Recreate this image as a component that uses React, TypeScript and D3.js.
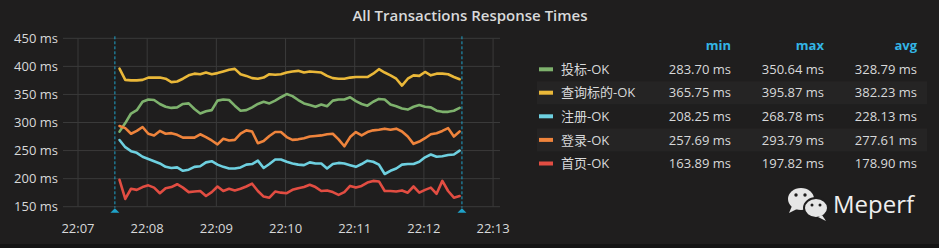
import React from "react";
import * as d3 from "d3";

const W = 939;
const H = 248;

const title = "All Transactions Response Times";
const seriesNames = ["投标-OK", "查询标的-OK", "注册-OK", "登录-OK", "首页-OK"];
const seriesColors = ["#7eb26d", "#eab839", "#6ed0e0", "#ef843c", "#e24d42"];
const legendHeaders = ["min", "max", "avg"];
const legendMin = ["283.70 ms", "365.75 ms", "208.25 ms", "257.69 ms", "163.89 ms"];
const legendMax = ["350.64 ms", "395.87 ms", "268.78 ms", "293.79 ms", "197.82 ms"];
const legendAvg = ["328.79 ms", "382.23 ms", "228.13 ms", "277.61 ms", "178.90 ms"];
const yTicks = [150, 200, 250, 300, 350, 400, 450];
const xTickMinutes = [7, 8, 9, 10, 11, 12, 13];

const toubiao = [283.7, 299, 316, 322, 337, 341, 340, 333, 328, 326, 327, 333, 334, 324, 316, 320, 322, 339, 341, 340, 330, 321, 322, 327, 333, 337, 334, 339, 345, 350.64, 347, 340, 334, 331, 328, 332, 329, 339, 341, 341, 345, 338, 333, 330, 337, 342, 341, 332, 329, 325, 323, 328, 331, 328, 327, 321, 319, 319, 321, 326];
const chaxun = [395.87, 376, 375, 375, 376, 380, 380, 380, 378, 372, 373, 378, 384, 387, 386, 389, 386, 388, 391, 394, 395.5, 386, 383, 379, 378, 380, 386, 385, 386, 389, 391, 392, 389, 391, 390, 389, 383, 379, 378, 378, 380, 381, 381, 381, 387, 395, 389, 384, 378, 365.75, 378, 384, 383, 390, 384, 387, 387, 386, 381, 377];
const zhuce = [268.78, 256, 249, 246, 239, 235, 231, 227, 221, 219, 220, 214, 216, 221, 222, 229, 231, 225, 221, 218, 218, 220, 225, 226, 232, 219, 226, 234, 234, 230, 227, 225, 224, 229, 227, 227, 218, 226, 228, 227, 224, 221, 226, 232, 230, 225, 208.25, 214, 218, 225, 226, 226, 230, 238, 243, 239, 240, 242, 243, 250];
const denglu = [293.79, 290, 280, 285, 292, 280, 277, 285, 280, 281, 278, 273, 273, 273, 279, 274, 268, 261, 271, 268, 269, 280, 286, 284, 263, 267, 276, 283, 283, 274, 269, 270, 272, 275, 276, 277, 279, 280, 270, 257.69, 274, 283, 277, 283, 286, 287, 289, 287, 289, 284, 275, 262, 266, 272, 279, 281, 285, 290, 275, 284];
const shouye = [197.82, 163.89, 182, 180, 185, 188, 184, 174, 183, 185, 190, 184, 176, 177, 178, 169, 176, 186, 178, 182, 179, 182, 186, 191, 178, 168, 166, 177, 175, 174, 180, 183, 185, 189, 185, 178, 179, 176, 171, 176, 187, 184, 187, 193, 196, 195, 178, 178, 177, 179, 175, 186, 175, 180, 184, 173, 196, 178, 166, 169];
const seriesValues = [toubiao, chaxun, zhuce, denglu, shouye];

const startTime = new Date(2019, 0, 1, 22, 7, 36);
const stepSeconds = 5;
const annotationTimes = [new Date(2019, 0, 1, 22, 7, 32), new Date(2019, 0, 1, 22, 12, 33)];
const domainStart = new Date(2019, 0, 1, 22, 6, 47);
const domainEnd = new Date(2019, 0, 1, 22, 13, 6);

const FONT = "'Open Sans', 'Noto Sans CJK SC', sans-serif";

export default function App() {
  const plotLeft = 63;
  const plotRight = 500;
  const plotTop = 38.3;
  const plotBottom = 206.7;

  const x = d3.scaleTime().domain([domainStart, domainEnd]).range([plotLeft, plotRight]);
  const y = d3.scaleLinear().domain([150, 450]).range([plotBottom, plotTop]);
  const fmt = d3.timeFormat("%H:%M");

  const times = toubiao.map((_, i) => new Date(startTime.getTime() + i * stepSeconds * 1000));
  const line = d3
    .line<number>()
    .x((_, i) => x(times[i]))
    .y((d) => y(d));

  const xTicks = xTickMinutes.map((m) => new Date(2019, 0, 1, 22, m, 0));

  const legendX = 539;
  const rowY = [69.3, 92.7, 116.3, 139.9, 163.5];
  const colRight = [731, 824, 917];

  return (
    <svg width={W} height={H} style={{ display: "block", position: "absolute", left: 0, top: 0 }}>
      <rect x={0} y={0} width={W} height={H} fill="#141414" />
      <rect x={0} y={0} width={W} height={244} fill="#1f1e1e" />
      <text x={470} y={21} textAnchor="middle" fill="#d8d9da" fontFamily={FONT} fontSize={15} fontWeight={600}>
        {title}
      </text>

      {/* grid */}
      {yTicks.map((t) => (
        <line key={"gy" + t} x1={plotLeft} x2={plotRight} y1={y(t)} y2={y(t)} stroke="#3a3a3a" strokeWidth={1} />
      ))}
      {xTicks.map((t, i) => (
        <line key={"gx" + i} x1={x(t)} x2={x(t)} y1={plotTop} y2={plotBottom} stroke="#3a3a3a" strokeWidth={1} />
      ))}

      {/* y labels */}
      {yTicks.map((t) => (
        <text key={"ly" + t} x={58} y={y(t) + 4.5} textAnchor="end" fill="#d8d9da" fontFamily={FONT} fontSize={13}>
          {t} ms
        </text>
      ))}
      {/* x labels */}
      {xTicks.map((t, i) => (
        <text key={"lx" + i} x={x(t)} y={233} textAnchor="middle" fill="#d8d9da" fontFamily={FONT} fontSize={13}>
          {fmt(t)}
        </text>
      ))}

      {/* series */}
      {seriesValues.map((vals, si) => (
        <path
          key={"s" + si}
          d={line(vals) || ""}
          fill="none"
          stroke={seriesColors[si]}
          strokeWidth={2.6}
          strokeLinejoin="round"
          strokeLinecap="round"
        />
      ))}

      {/* annotations */}
      {annotationTimes.map((t, i) => (
        <g key={"a" + i}>
          <line x1={x(t)} x2={x(t)} y1={plotTop - 2} y2={plotBottom + 1} stroke="#1fa2c9" strokeWidth={1} strokeDasharray="3,2" />
          <path
            d={`M${x(t) - 4.5},${plotBottom + 6} L${x(t) + 4.5},${plotBottom + 6} L${x(t)},${plotBottom + 1.5} Z`}
            fill="#1fa2c9"
          />
        </g>
      ))}

      {/* legend */}
      {[1, 3].map((r) => (
        <rect key={"stripe" + r} x={537} y={rowY[r] - 11.5} width={390} height={23} fill="#252424" />
      ))}
      {legendHeaders.map((h, i) => (
        <text key={"h" + h} x={colRight[i]} y={50} textAnchor="end" fill="#33b5e5" fontFamily={FONT} fontSize={13} fontWeight={700}>
          {h}
        </text>
      ))}
      {seriesNames.map((name, i) => (
        <g key={"lg" + i}>
          <rect x={legendX} y={rowY[i] - 2} width={14} height={4} fill={seriesColors[i]} />
          <text x={561} y={rowY[i] + 4.7} fill="#d8d9da" fontFamily={FONT} fontSize={13}>
            {name}
          </text>
          <text x={colRight[0]} y={rowY[i] + 4.7} textAnchor="end" fill="#d8d9da" fontFamily={FONT} fontSize={13}>
            {legendMin[i]}
          </text>
          <text x={colRight[1]} y={rowY[i] + 4.7} textAnchor="end" fill="#d8d9da" fontFamily={FONT} fontSize={13}>
            {legendMax[i]}
          </text>
          <text x={colRight[2]} y={rowY[i] + 4.7} textAnchor="end" fill="#d8d9da" fontFamily={FONT} fontSize={13}>
            {legendAvg[i]}
          </text>
        </g>
      ))}

      {/* watermark */}
      <g fill="#e6e6e6">
        <ellipse cx={801} cy={199} rx={13} ry={11} />
        <path d="M792,206 L789,213 L797,209 Z" />
        <ellipse cx={816} cy={208} rx={12} ry={10} stroke="#1f1e1e" strokeWidth={2} />
        <path d="M822,215 L826,221 L818,217 Z" />
      </g>
      <g fill="#1f1e1e">
        <circle cx={796} cy={195} r={1.7} />
        <circle cx={805} cy={195} r={1.7} />
        <circle cx={812} cy={205} r={1.5} />
        <circle cx={820} cy={205} r={1.5} />
      </g>
      <text x={833} y={213} fill="#eeeeee" fontFamily={FONT} fontSize={24}>
        Meperf
      </text>
    </svg>
  );
}
